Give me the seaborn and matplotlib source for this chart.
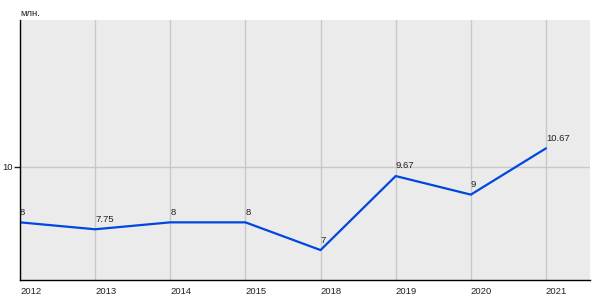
import matplotlib
matplotlib.use("Agg")
import matplotlib.pyplot as plt
import seaborn as sns
import pandas as pd

years = ["2012", "2013", "2014", "2015", "2018", "2019", "2020", "2021"]
values = [8, 7.75, 8, 8, 7, 9.67, 9, 10.67]
value_labels = ["8", "7.75", "8", "8", "7", "9.67", "9", "10.67"]
unit_label = "млн."

sns.set_theme(style="white")
plt.rcParams['font.family'] = ['Liberation Sans', 'DejaVu Sans']

fig = plt.figure(figsize=(6, 3), dpi=100)
ax = fig.add_axes([20/600, 20/300, 570/600, 260/300])
ax.set_facecolor("#ebebeb")

df = pd.DataFrame({"year": years, "value": values})
sns.lineplot(data=df, x="year", y="value", ax=ax, color="#0046e0", linewidth=1.6)

ax.set_xlim(0, 7.586)
ax.set_ylim(5.92, 15.3)
ax.set_yticks([10])
ax.set_yticklabels(["10"])
ax.set_xticks(range(len(years)))
ax.set_xticklabels(years, ha="left")
ax.grid(True, color="#c8c8c8", linewidth=1)
ax.set_axisbelow(True)
ax.set_xlabel("")
ax.set_ylabel("")

for s in ["top", "right"]:
    ax.spines[s].set_visible(False)
for s in ["left", "bottom"]:
    ax.spines[s].set_color("black")
    ax.spines[s].set_linewidth(1)

ax.tick_params(axis="x", length=0, pad=5, labelsize=6.8, colors="#222222")
ax.tick_params(axis="y", length=4, width=1, pad=1, labelsize=6.8, colors="#222222", left=True)

for i, (v, t) in enumerate(zip(values, value_labels)):
    ax.annotate(t, (i, v), xytext=(0, 4), textcoords="offset points",
                ha="left", va="bottom", fontsize=6.8, color="#222222")

fig.text(20/600, 1 - 13/300, unit_label, ha="left", va="center", fontsize=6.8, color="#222222")

fig.savefig("out.png", dpi=100)
